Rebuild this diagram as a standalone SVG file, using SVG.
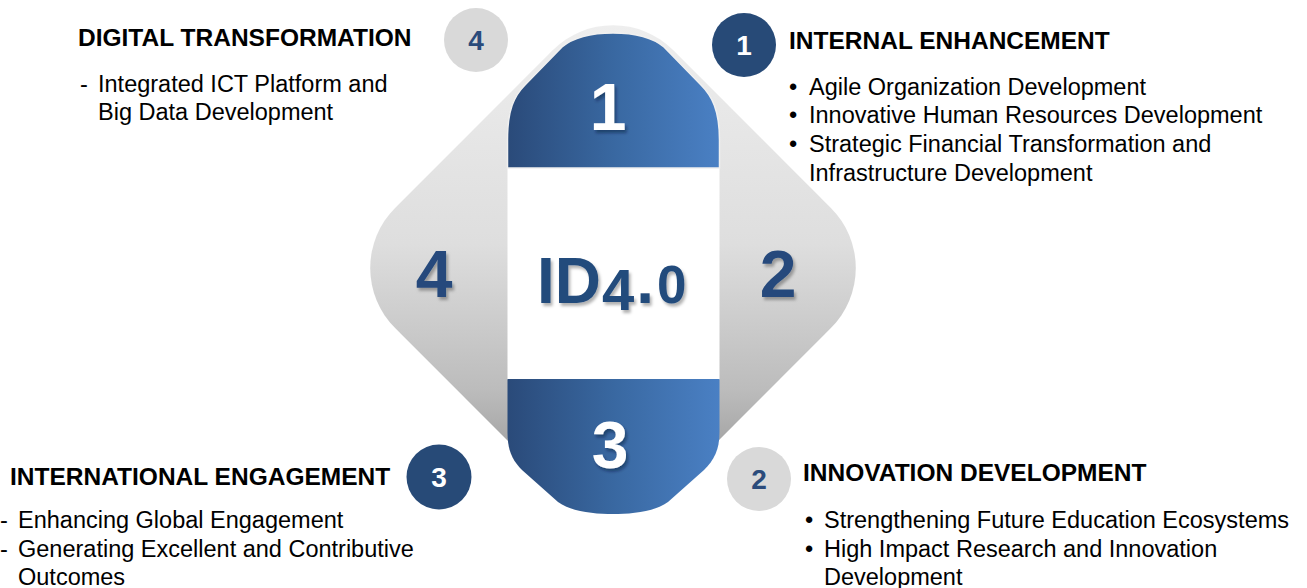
<svg xmlns="http://www.w3.org/2000/svg" width="1307" height="588" viewBox="0 0 1307 588">
<defs>
<linearGradient id="gDiamond" x1="0" y1="25" x2="0" y2="511" gradientUnits="userSpaceOnUse">
<stop offset="0" stop-color="#eeeeee"/>
<stop offset="0.45" stop-color="#dedede"/>
<stop offset="0.75" stop-color="#bcbcbc"/>
<stop offset="1" stop-color="#8a8a8a"/>
</linearGradient>
<linearGradient id="gBlue" x1="507" y1="0" x2="720" y2="0" gradientUnits="userSpaceOnUse">
<stop offset="0" stop-color="#2a4a79"/>
<stop offset="0.5" stop-color="#3968a1"/>
<stop offset="1" stop-color="#4a80c4"/>
</linearGradient>
<filter id="shadow" x="-20%" y="-20%" width="140%" height="140%">
<feDropShadow dx="2" dy="3" stdDeviation="1.5" flood-color="#0b1a33" flood-opacity="0.45"/>
</filter>
<filter id="shadowLight" x="-20%" y="-20%" width="140%" height="140%">
<feDropShadow dx="2" dy="3" stdDeviation="1.5" flood-color="#000" flood-opacity="0.3"/>
</filter>
</defs>
<style>
.h{font-family:"Liberation Sans",Arial,sans-serif;font-weight:bold;font-size:24.5px;fill:#000}
.b{font-family:"Liberation Sans",Arial,sans-serif;font-size:23.5px;fill:#000}
.cn{font-family:"Liberation Sans",Arial,sans-serif;font-weight:bold;font-size:28px;text-anchor:middle}
.big{font-family:"Liberation Sans",Arial,sans-serif;font-weight:bold;font-size:66px;text-anchor:middle}
.dark{fill:#274a77}
.light{fill:#d9d9d9}
</style>
<rect width="1307" height="588" fill="#ffffff"/>

<g id="center">
<path d="M395.1 207.9 L552.9 50.1 A85 85 0 0 1 673.1 50.1 L830.9 207.9 A85 85 0 0 1 830.9 328.1 L673.1 485.9 A85 85 0 0 1 552.9 485.9 L395.1 328.1 A85 85 0 0 1 395.1 207.9 Z" fill="url(#gDiamond)"/>
<rect x="507.5" y="167" width="212" height="213" fill="#ffffff"/>
<path d="M507.5 168 L507.5 140 C507.5 110 514 96 525 85 L562 47 C575 36 595 33 613 33 C631 33 651 36 664 47 L701 85 C712 96 719.5 110 719.5 140 L719.5 168 Z" fill="url(#gBlue)" stroke="#f0f0f0" stroke-width="1.5"/>
<path d="M507.5 379 L507.5 432 C507.5 450 512 460 522 470 L558 502 C572 512 595 514 613 514 C631 514 654 512 668 502 L704 470 C714 460 719.5 450 719.5 432 L719.5 379 Z" fill="url(#gBlue)"/>
<text class="big" x="608" y="130" fill="#ffffff" filter="url(#shadow)">1</text>
<text class="big" x="610" y="468" fill="#ffffff" filter="url(#shadow)">3</text>
<text class="big" x="434" y="297" fill="#264a7c" filter="url(#shadowLight)">4</text>
<text class="big" x="778" y="297" fill="#264a7c" filter="url(#shadowLight)">2</text>
<text x="537" y="303" font-family="'Liberation Sans',Arial,sans-serif" font-weight="bold" font-size="64" fill="#234b7c" filter="url(#shadowLight)">ID<tspan font-size="58" dx="1" dy="7">4</tspan><tspan dx="2" dy="-7">.</tspan><tspan font-size="53" dx="3">0</tspan></text>
</g>

<g id="node-internal">
<circle cx="744" cy="45" r="32" class="dark"/>
<text class="cn" x="744" y="55" fill="#ffffff">1</text>
<text class="h" x="789" y="49">INTERNAL ENHANCEMENT</text>
<text class="b" x="789" y="95">•</text><text class="b" x="809" y="95">Agile Organization Development</text>
<text class="b" x="789" y="123">•</text><text class="b" x="809" y="123">Innovative Human Resources Development</text>
<text class="b" x="789" y="152">•</text><text class="b" x="809" y="152">Strategic Financial Transformation and</text>
<text class="b" x="809" y="181">Infrastructure Development</text>
</g>

<g id="node-innovation">
<circle cx="759" cy="479" r="32" class="light"/>
<text class="cn" x="759" y="489" fill="#2b4b7b">2</text>
<text class="h" x="803" y="481">INNOVATION DEVELOPMENT</text>
<text class="b" x="805" y="528">•</text><text class="b" x="824" y="528">Strengthening Future Education Ecosystems</text>
<text class="b" x="805" y="557">•</text><text class="b" x="824" y="557">High Impact Research and Innovation</text>
<text class="b" x="824" y="585">Development</text>
</g>

<g id="node-international">
<circle cx="439" cy="477" r="32.5" class="dark"/>
<text class="cn" x="439" y="487" fill="#ffffff">3</text>
<text class="h" x="10" y="485">INTERNATIONAL ENGAGEMENT</text>
<text class="b" x="0" y="528">-</text><text class="b" x="18" y="528">Enhancing Global Engagement</text>
<text class="b" x="0" y="557">-</text><text class="b" x="18" y="557">Generating Excellent and Contributive</text>
<text class="b" x="18" y="585">Outcomes</text>
</g>

<g id="node-digital">
<circle cx="476" cy="40" r="32" class="light"/>
<text class="cn" x="476" y="50" fill="#2b4b7b">4</text>
<text class="h" x="78" y="46">DIGITAL TRANSFORMATION</text>
<text class="b" x="80" y="92">-</text><text class="b" x="98" y="92">Integrated ICT Platform and</text>
<text class="b" x="98" y="120">Big Data Development</text>
</g>

<g id="connectors"/>
</svg>
